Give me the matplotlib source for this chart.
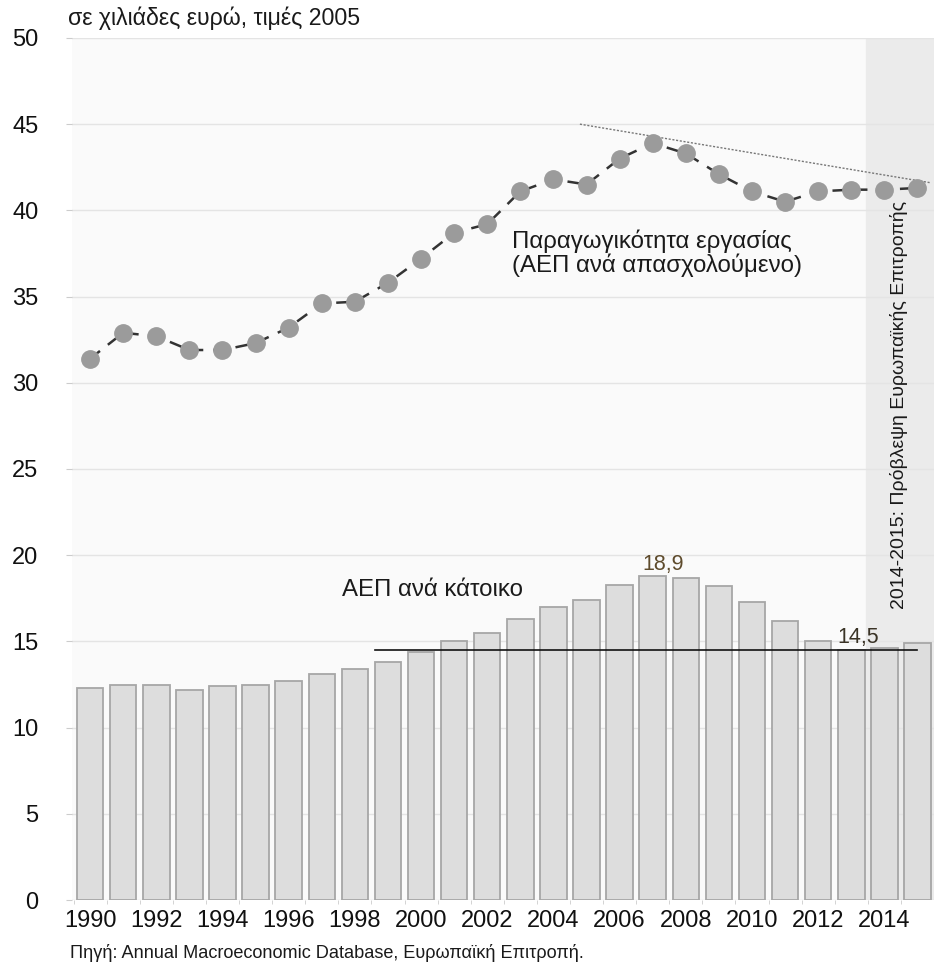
import numpy as np
import matplotlib.pyplot as plt

plt.rcParams['font.family'] = ['Liberation Sans', 'DejaVu Sans']

years = np.arange(1990, 2016)

# ΑΕΠ ανά κάτοικο (χιλ. ευρώ, τιμές 2005)
gdp_per_capita = [12.3, 12.5, 12.5, 12.2, 12.4, 12.5, 12.7, 13.1, 13.4, 13.8,
                  14.4, 15.0, 15.5, 16.3, 17.0, 17.4, 18.3, 18.8, 18.7, 18.2,
                  17.3, 16.2, 15.0, 14.5, 14.6, 14.9]

# Παραγωγικότητα εργασίας (ΑΕΠ ανά απασχολούμενο)
productivity = [31.4, 32.9, 32.7, 31.9, 31.9, 32.3, 33.2, 34.6, 34.7, 35.8,
                37.2, 38.7, 39.2, 41.1, 41.8, 41.5, 43.0, 43.9, 43.3, 42.1,
                41.1, 40.5, 41.1, 41.2, 41.2, 41.3]

level_line = 14.5
trend_x = [2004.8, 2015.4]
trend_y = [45.0, 41.6]

fig = plt.figure(figsize=(9.34, 9.73), dpi=100)
ax = fig.add_axes([0.077, 0.075, 0.923, 0.886])
ax.set_facecolor('#fafafa')

# forecast shading
ax.axvspan(2013.45, 2015.6, color='#ebebeb', zorder=0)

ax.set_yticks(np.arange(0, 51, 5))
ax.yaxis.grid(True, color='#e4e4e4', linewidth=1)
ax.set_axisbelow(True)

ax.bar(years, gdp_per_capita, width=0.8, color='#dddddd', edgecolor='#a6a6a6',
       linewidth=1.3, zorder=2)

ax.plot([1998.6, 2015.0], [level_line, level_line], color='#111111', lw=1.2, zorder=3)

ax.plot(years, productivity, color='#333333', lw=1.8, dashes=(5, 4),
        marker='o', markersize=12.5, markerfacecolor='#9b9b9b',
        markeredgecolor='#9b9b9b', zorder=4)

ax.plot(trend_x, trend_y, color='#777777', lw=1, linestyle=(0, (1.5, 1.2)), zorder=3)

ax.set_xlim(1989.45, 2015.35)
ax.set_ylim(0, 50)

for s in ax.spines.values():
    s.set_visible(False)

ax.set_xticks(np.arange(1990, 2015, 2))
ax.set_xticks(np.arange(1989.5, 2015.6, 1), minor=True)
ax.tick_params(axis='x', which='major', length=0, pad=7, labelsize=17, labelcolor='#111111')
ax.tick_params(axis='x', which='minor', length=3, color='#cccccc')
ax.tick_params(axis='y', length=4, color='#cccccc', pad=20, labelsize=17, labelcolor='#111111')

ax.text(2002.75, 37.5, 'Παραγωγικότητα εργασίας\n(ΑΕΠ ανά απασχολούμενο)',
        fontsize=17.3, color='#1a1a1a', va='center', ha='left', linespacing=1.0)
ax.text(1997.6, 18.0, 'ΑΕΠ ανά κάτοικο', fontsize=17.3, color='#1a1a1a',
        va='center', ha='left')
ax.text(2007.3, 19.45, '18,9', fontsize=15.5, color='#5e4b2c', ha='center', va='center')
ax.text(2013.2, 15.25, '14,5', fontsize=15.5, color='#3a3326', ha='center', va='center')
ax.text(2014.45, 28.7, '2014-2015: Πρόβλεψη Ευρωπαϊκής Επιτροπής', rotation=90,
        fontsize=14, color='#1a1a1a', ha='center', va='center')

fig.text(0.073, 0.981, 'σε χιλιάδες ευρώ, τιμές 2005', fontsize=16.7, color='#1a1a1a',
         ha='left', va='center')
fig.text(0.075, 0.021, 'Πηγή: Annual Macroeconomic Database, Ευρωπαϊκή Επιτροπή.',
         fontsize=13.1, color='#1a1a1a', ha='left', va='center')

fig.savefig('out.png', dpi=100, facecolor='white')
